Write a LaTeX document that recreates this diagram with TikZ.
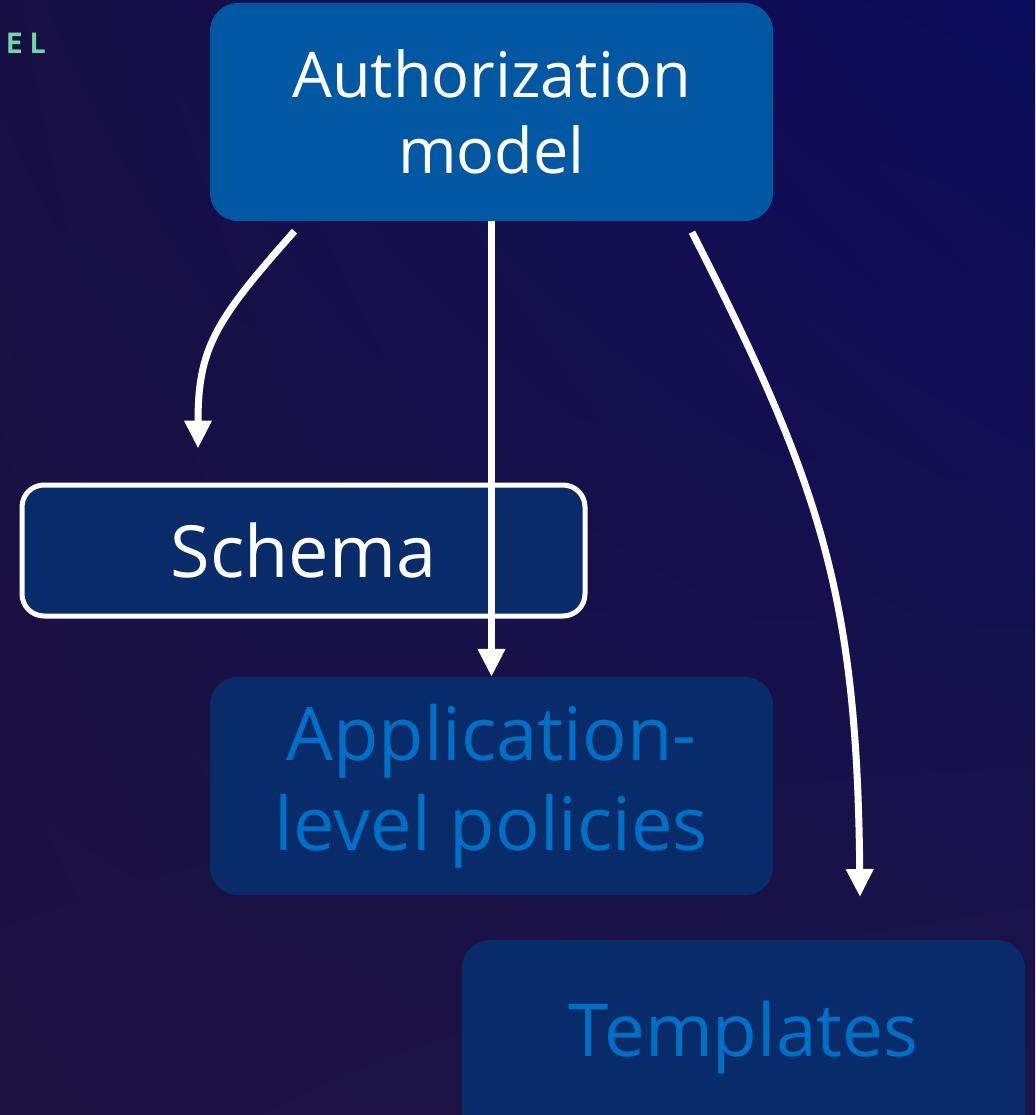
\documentclass[tikz,border=0pt]{standalone}
\usepackage{fontspec}
\setmainfont{Open Sans}
\setmonofont{DejaVu Sans Mono}
\usetikzlibrary{arrows.meta,shadings}
\definecolor{bgul}{HTML}{170F44}
\definecolor{bgur}{HTML}{0B0C5C}
\definecolor{bgll}{HTML}{1C1240}
\definecolor{bglr}{HTML}{1B1446}
\definecolor{authblue}{HTML}{0058A3}
\definecolor{boxdark}{HTML}{082C6A}
\definecolor{textblue}{HTML}{0070C7}
\definecolor{tagmint}{HTML}{6DDBA1}
\begin{document}
\begin{tikzpicture}[x=1pt,y=-1pt,
  box/.style={rounded corners=28pt,minimum width=563pt,minimum height=218pt,
    inner sep=0pt,align=center},
  flow/.style={white,line width=7pt,-{Triangle[width=26pt,length=28pt]}}]
  \useasboundingbox (0,0) rectangle (1035,1115);
  \shade[upper left=bgul,upper right=bgur,lower left=bgll,lower right=bglr]
    (0,0) rectangle (1035,1115);
  \node[font=\ttfamily\bfseries\fontsize{28}{28}\selectfont,text=tagmint,anchor=base west,inner sep=0pt]
    (tag) at (6,54) {E\kern6pt L};
  % boxes
  \node[box,fill=authblue,text=white,font=\fontsize{63}{76}\selectfont]
    (auth) at (491.5,112) {Authorization\\model};
  \node[box,fill=boxdark,draw=white,line width=5pt,rounded corners=22pt,
    minimum width=563pt,minimum height=131pt,text=white,font=\fontsize{72}{72}\selectfont]
    (schema) at (303.5,550.5) {Schema};
  \node[box,fill=boxdark,text=textblue,font=\fontsize{74}{90}\selectfont]
    (app) at (491.5,786) {Application-\\level policies};
  \node[box,fill=boxdark,anchor=north] (tmpl) at (743.5,940) {};
  \node[text=textblue,font=\fontsize{73}{73}\selectfont,inner sep=0pt]
    (tmpltext) at ([shift={(0,98)}]tmpl.north) {Templates};
  % arrows
  \coordinate (s1) at ([shift={(-197,10)}]auth.south);
  \coordinate (e1) at ([shift={(-105.5,-34)}]schema.north);
  \coordinate (s3) at ([shift={(200.5,11)}]auth.south);
  \coordinate (e3) at ([shift={(116.5,-43)}]tmpl.north);
  \draw[flow] (s1) .. controls +(-80,90) and +(0,-100) .. (e1);
  \draw[flow] (auth.south) -- (app.north);
  \draw[flow] (s3) .. controls +(130,255) and +(-3,-300) .. (e3);
\end{tikzpicture}
\end{document}
